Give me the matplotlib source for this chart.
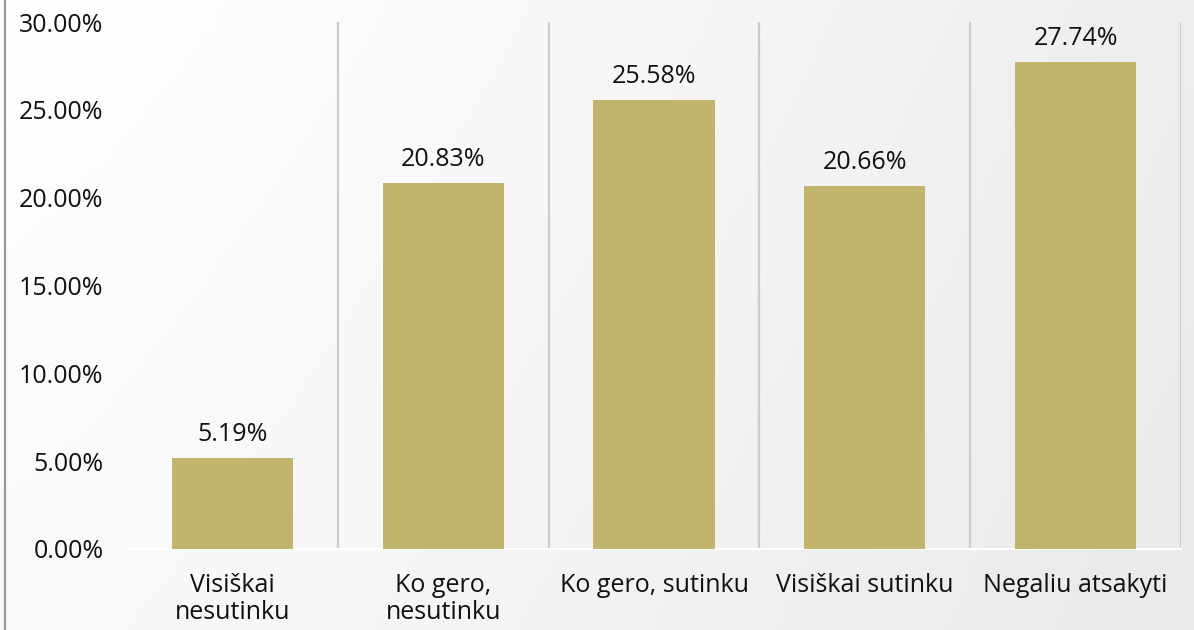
import matplotlib
matplotlib.use("Agg")
import matplotlib.pyplot as plt
import numpy as np
from matplotlib.ticker import FuncFormatter, MultipleLocator
from matplotlib.lines import Line2D

categories = ["Visiškai\nnesutinku", "Ko gero,\nnesutinku", "Ko gero, sutinku",
              "Visiškai sutinku", "Negaliu atsakyti"]
values = [5.19, 20.83, 25.58, 20.66, 27.74]

plt.rcParams['font.family'] = ['Open Sans', 'DejaVu Sans']

fig = plt.figure(figsize=(11.94, 6.3), dpi=100)

# background gradient
bg = fig.add_axes([0, 0, 1, 1], zorder=-10)
gx = np.linspace(0, 1, 256)
gy = np.linspace(0, 1, 64)
X, Y = np.meshgrid(gx, gy)
G = 1.0 - 0.08 * np.clip(0.85 * X ** 1.3 + 0.25 * (1 - Y), 0, 1)
bg.imshow(np.dstack([G, G, G]), aspect='auto', extent=[0, 1, 0, 1], origin='lower')
bg.set_axis_off()

ax = fig.add_axes([127 / 1194, 81 / 630, (1181 - 127) / 1194, (549 - 22) / 630])
ax.patch.set_alpha(0)

x = np.arange(len(categories))
ax.bar(x, values, width=0.575, color='#c2b46c', zorder=3)

for xi, v in zip(x, values):
    ax.annotate(f"{v:.2f}%", (xi, v), xytext=(0, 8), textcoords='offset points',
                ha='center', va='bottom', fontsize=18, color='#111111')

ax.set_xlim(-0.5, len(categories) - 0.5)
ax.set_ylim(0, 30)
ax.yaxis.set_major_locator(MultipleLocator(5))
ax.yaxis.set_major_formatter(FuncFormatter(lambda v, p: f"{v:.2f}%"))
ax.set_xticks(x)
ax.set_xticklabels(categories, fontsize=18, linespacing=1.12)
ax.tick_params(axis='y', length=0, pad=17, labelsize=18, labelcolor='#111111')
ax.tick_params(axis='x', length=0, pad=17, labelsize=18, labelcolor='#111111')

for b in np.arange(0.5, len(categories), 1.0):
    ax.axvline(b, color='#cccccc', lw=1.6, zorder=1)

for s in ['top', 'right', 'left']:
    ax.spines[s].set_visible(False)
ax.spines['bottom'].set_color('white')
ax.spines['bottom'].set_linewidth(1.5)

fig.add_artist(Line2D([4.5 / 1194, 4.5 / 1194], [0, 1], color='#999999', lw=1.6))

fig.savefig("out.png", dpi=100)
